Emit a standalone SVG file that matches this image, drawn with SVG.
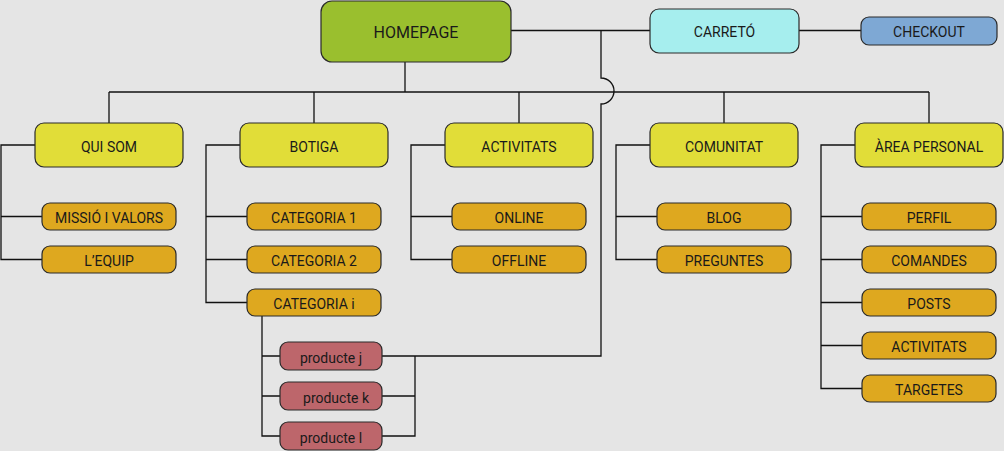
<svg xmlns="http://www.w3.org/2000/svg" width="1004" height="451" viewBox="0 0 1004 451">
<style>
.n{stroke:#2a2a2a;stroke-width:1.2}
.home{fill:#9abf2e}
.cart{fill:#a6eeee}
.chk{fill:#7ea8d4}
.l1{fill:#e1dd38}
.l2{fill:#dea81f}
.pr{fill:#bd666b}
text{font-family:Roboto,"Liberation Sans",sans-serif;font-size:14px;fill:#1a1a1a;text-anchor:middle}
.c path,.c line{fill:none;stroke:#111;stroke-width:1.3}
</style>
<rect width="1004" height="451" fill="#e5e5e5"/>
<g class="c" id="connectors">
<path d="M511,30.5 H650"/>
<path d="M799,30.5 H861"/>
<path d="M405,62 V92"/>
<path d="M109,92 H929"/>
<path d="M109,92 V123 M314,92 V123 M519,92 V123 M724,92 V123 M929,92 V123"/>
<path d="M601,30.5 V78 A13,13 0 0 1 601,104 V356 H382"/>
<path d="M35,145 H1 V259.5 H42 M1,216.5 H42"/>
<path d="M240,145 H206 V302.5 H247 M206,216.5 H247 M206,259.5 H247"/>
<path d="M445,145 H411 V259.5 H452 M411,216.5 H452"/>
<path d="M650,145 H616 V259.5 H657 M616,216.5 H657"/>
<path d="M855,145 H821 V388.5 H862 M821,216.5 H862 M821,259.5 H862 M821,302.5 H862 M821,345.5 H862"/>
<path d="M262,316 V436 H280 M262,356 H280 M262,396 H280"/>
<path d="M382,396 H415 M382,436 H415 V356"/>
</g>
<g id="homepage"><rect class="n home" x="321" y="1" width="190" height="61" rx="11"/><text x="416" y="37.5" style="font-size:16px">HOMEPAGE</text></g>
<g id="carreto"><rect class="n cart" x="650" y="9" width="149" height="44" rx="9"/><text x="724.5" y="37.3">CARRETÓ</text></g>
<g id="checkout"><rect class="n chk" x="861" y="17" width="136" height="28" rx="8"/><text x="929" y="37.3">CHECKOUT</text></g>
<g id="quisom"><rect class="n l1" x="35" y="123" width="148" height="44" rx="9"/><text x="109" y="152">QUI SOM</text></g>
<g id="botiga"><rect class="n l1" x="240" y="123" width="148" height="44" rx="9"/><text x="314" y="152">BOTIGA</text></g>
<g id="activitats"><rect class="n l1" x="445" y="123" width="148" height="44" rx="9"/><text x="519" y="152">ACTIVITATS</text></g>
<g id="comunitat"><rect class="n l1" x="650" y="123" width="148" height="44" rx="9"/><text x="724" y="152">COMUNITAT</text></g>
<g id="areapersonal"><rect class="n l1" x="855" y="123" width="148" height="44" rx="9"/><text x="929" y="152">ÀREA PERSONAL</text></g>
<g id="missio"><rect class="n l2" x="42" y="203" width="134" height="27" rx="8"/><text x="109" y="223">MISSIÓ I VALORS</text></g>
<g id="equip"><rect class="n l2" x="42" y="246" width="134" height="27" rx="8"/><text x="109" y="266">L’EQUIP</text></g>
<g id="cat1"><rect class="n l2" x="247" y="203" width="134" height="27" rx="8"/><text x="314" y="223">CATEGORIA 1</text></g>
<g id="cat2"><rect class="n l2" x="247" y="246" width="134" height="27" rx="8"/><text x="314" y="266">CATEGORIA 2</text></g>
<g id="cati"><rect class="n l2" x="247" y="289" width="134" height="27" rx="8"/><text x="314" y="309">CATEGORIA i</text></g>
<g id="online"><rect class="n l2" x="452" y="203" width="134" height="27" rx="8"/><text x="519" y="223">ONLINE</text></g>
<g id="offline"><rect class="n l2" x="452" y="246" width="134" height="27" rx="8"/><text x="519" y="266">OFFLINE</text></g>
<g id="blog"><rect class="n l2" x="657" y="203" width="134" height="27" rx="8"/><text x="724" y="223">BLOG</text></g>
<g id="preguntes"><rect class="n l2" x="657" y="246" width="134" height="27" rx="8"/><text x="724" y="266">PREGUNTES</text></g>
<g id="perfil"><rect class="n l2" x="862" y="203" width="134" height="27" rx="8"/><text x="929" y="223">PERFIL</text></g>
<g id="comandes"><rect class="n l2" x="862" y="246" width="134" height="27" rx="8"/><text x="929" y="266">COMANDES</text></g>
<g id="posts"><rect class="n l2" x="862" y="289" width="134" height="27" rx="8"/><text x="929" y="309">POSTS</text></g>
<g id="activitats2"><rect class="n l2" x="862" y="332" width="134" height="27" rx="8"/><text x="929" y="352">ACTIVITATS</text></g>
<g id="targetes"><rect class="n l2" x="862" y="375" width="134" height="27" rx="8"/><text x="929" y="395">TARGETES</text></g>
<g id="productej"><rect class="n pr" x="280" y="342" width="102" height="28" rx="8"/><text x="331" y="363">producte j</text></g>
<g id="productek"><rect class="n pr" x="280" y="382" width="102" height="28" rx="8"/><text x="336" y="403">producte k</text></g>
<g id="productel"><rect class="n pr" x="280" y="422" width="102" height="28" rx="8"/><text x="331" y="443">producte l</text></g>
</svg>
